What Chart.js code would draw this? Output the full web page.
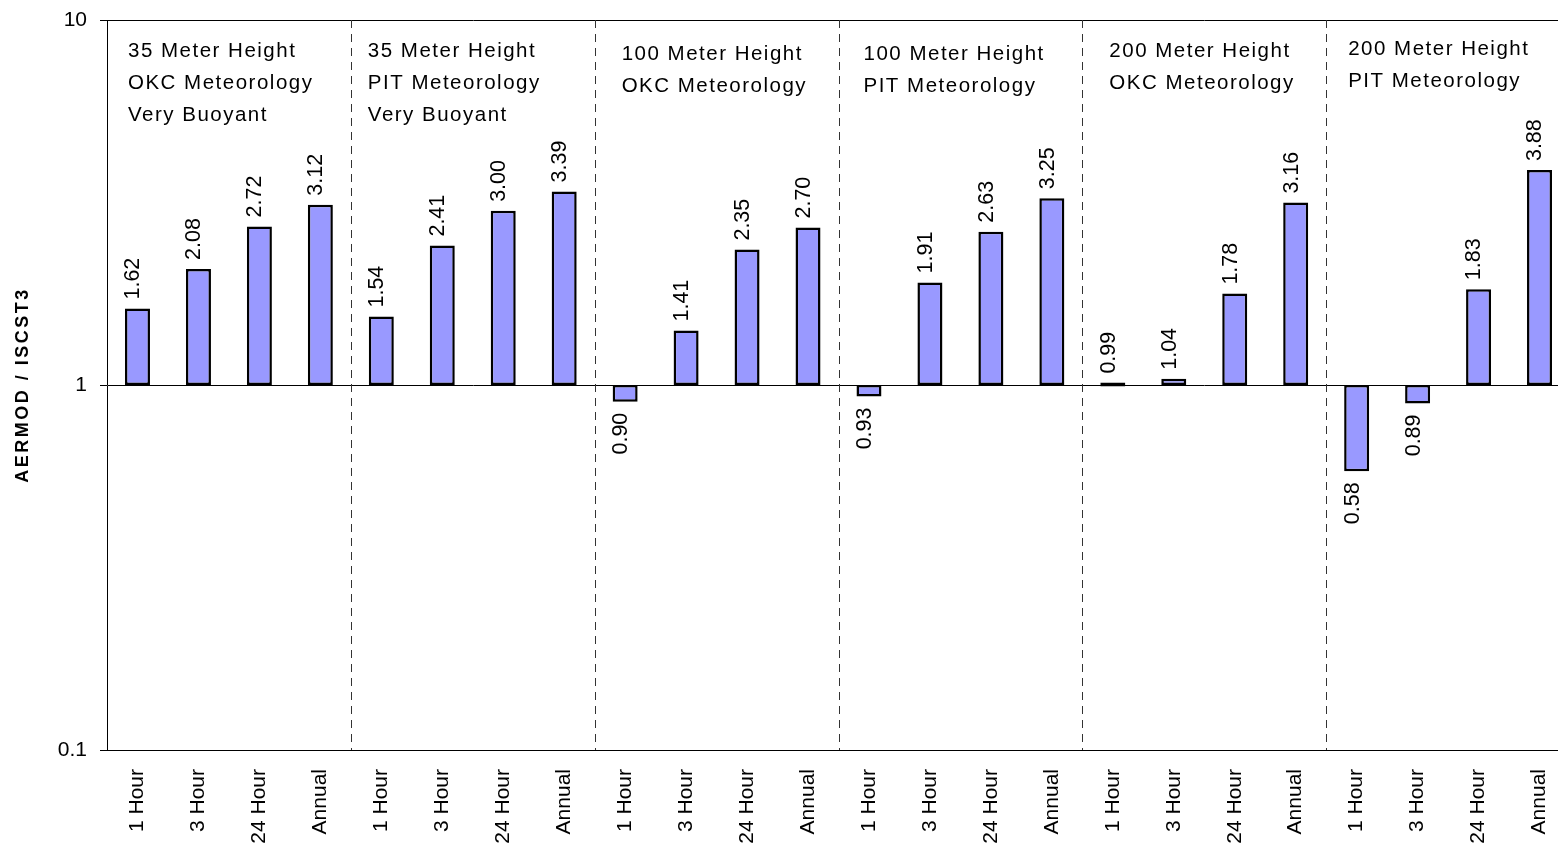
<!DOCTYPE html>
<html>
<head>
<meta charset="utf-8">
<script src="https://cdn.jsdelivr.net/npm/chart.js@4"></script>
<style>
body { margin: 0; background: #fff; overflow: hidden; }
#ratioChart { width: 1571px; height: 849px; display: block; }
</style>
</head>
<body>
<canvas id="ratioChart" width="1571" height="849"></canvas>
<script>
// averaging periods, repeated for each case
var periods = ['1 Hour', '3 Hour', '24 Hour', 'Annual'];

// the six cases, one note block each
var caseNotes = [
    ['35 Meter Height', 'OKC Meteorology', 'Very Buoyant'],
    ['35 Meter Height', 'PIT Meteorology', 'Very Buoyant'],
    ['100 Meter Height', 'OKC Meteorology'],
    ['100 Meter Height', 'PIT Meteorology'],
    ['200 Meter Height', 'OKC Meteorology'],
    ['200 Meter Height', 'PIT Meteorology']
];

// AERMOD / ISCST3 ratio, 4 periods per case
var ratios = [
    1.62, 2.08, 2.72, 3.12,
    1.54, 2.41, 3.00, 3.39,
    0.90, 1.41, 2.35, 2.70,
    0.93, 1.91, 2.63, 3.25,
    0.99, 1.04, 1.78, 3.16,
    0.58, 0.89, 1.83, 3.88
];

var yTicks = [0.1, 1, 10];

// where each note block starts: offset from the group edge, first baseline
var notePlace = [[21, 57], [17, 57], [27, 60], [25, 60], [27, 57], [22, 55]];

var labels = [];
caseNotes.forEach(function () {
    periods.forEach(function (p) { labels.push(p); });
});

var FONT = "'Liberation Sans', Arial, sans-serif";
Chart.defaults.font.family = FONT;
Chart.defaults.color = '#000';

function groupEdge(chart, g) {
    var x = chart.scales.x;
    if (g === 0) return chart.chartArea.left;
    return (x.getPixelForValue(g * 4 - 1) + x.getPixelForValue(g * 4)) / 2;
}

function noOverflow(s) {
    s.paddingTop = 0;
    s.paddingBottom = 0;
    s.paddingLeft = 0;
    s.paddingRight = 0;
}

var extras = {
    id: 'extras',
    beforeDatasetsDraw: function (chart) {
        var ctx = chart.ctx, area = chart.chartArea;
        ctx.save();
        ctx.strokeStyle = '#333';
        ctx.lineWidth = 1;
        ctx.setLineDash([8, 6]);
        for (var g = 1; g < caseNotes.length; g++) {
            var px = Math.round(groupEdge(chart, g)) + 0.5;
            ctx.beginPath();
            ctx.moveTo(px, area.top);
            ctx.lineTo(px, area.bottom);
            ctx.stroke();
        }
        ctx.restore();
    },
    afterDatasetsDraw: function (chart) {
        var ctx = chart.ctx;
        var bars = chart.getDatasetMeta(0).data;

        // value labels
        ctx.save();
        ctx.font = '21.5px ' + FONT;
        ctx.fillStyle = '#000';
        ctx.textBaseline = 'middle';
        bars.forEach(function (bar, i) {
            var top = Math.min(bar.y, bar.base);
            var bottom = Math.max(bar.y, bar.base);
            var up = ratios[i] >= 1 || bottom - top < 5;
            ctx.save();
            if (up) {
                ctx.translate(bar.x - 4, Math.min(top, bar.base) - 9);
                ctx.rotate(-Math.PI / 2);
                ctx.textAlign = 'left';
            } else {
                ctx.translate(bar.x - 4, bottom + 11);
                ctx.rotate(-Math.PI / 2);
                ctx.textAlign = 'right';
            }
            ctx.fillText(ratios[i].toFixed(2), 0, 0);
            ctx.restore();
        });
        ctx.restore();

        // case notes
        ctx.save();
        ctx.font = '20.5px ' + FONT;
        ctx.letterSpacing = '1.5px';
        ctx.fillStyle = '#000';
        ctx.textAlign = 'left';
        ctx.textBaseline = 'alphabetic';
        caseNotes.forEach(function (lines, g) {
            var x0 = groupEdge(chart, g) + notePlace[g][0];
            lines.forEach(function (line, k) {
                ctx.fillText(line, x0, notePlace[g][1] + k * 32);
            });
        });
        ctx.restore();

        // y axis title
        var area = chart.chartArea;
        ctx.save();
        ctx.translate(23, (area.top + area.bottom) / 2);
        ctx.rotate(-Math.PI / 2);
        ctx.font = 'bold 18px ' + FONT;
        ctx.letterSpacing = '2.5px';
        ctx.textAlign = 'center';
        ctx.textBaseline = 'middle';
        ctx.fillStyle = '#000';
        ctx.fillText('AERMOD / ISCST3', 0, 0);
        ctx.restore();
    }
};

var ratioChart = new Chart(document.getElementById('ratioChart'), {
    type: 'bar',
    data: {
        labels: labels,
        datasets: [{
            data: ratios.map(function (v) { return [1, v]; }),
            backgroundColor: '#9999FF',
            borderColor: '#000',
            borderWidth: 2.5,
            borderSkipped: false,
            minBarLength: 4,
            barPercentage: 0.41,
            categoryPercentage: 1
        }]
    },
    options: {
        responsive: false,
        animation: false,
        layout: { padding: { top: 20, right: 1, left: 0, bottom: 0 } },
        plugins: {
            legend: { display: false },
            tooltip: { enabled: false }
        },
        scales: {
            x: {
                grid: { display: false },
                border: { color: '#000', width: 1 },
                ticks: {
                    autoSkip: false,
                    minRotation: 90,
                    maxRotation: 90,
                    padding: 11,
                    font: { size: 21 }
                },
                afterFit: function (s) { s.height = 99; noOverflow(s); }
            },
            y: {
                type: 'logarithmic',
                min: 0.1,
                max: 10,
                afterBuildTicks: function (s) {
                    s.ticks = yTicks.map(function (v) { return { value: v }; });
                },
                ticks: {
                    padding: 13,
                    font: { size: 21 },
                    callback: function (v) { return String(v); }
                },
                grid: { color: '#000', lineWidth: 1, tickLength: 7 },
                border: { color: '#000', width: 1 },
                afterFit: function (s) { s.width = 107; noOverflow(s); }
            }
        }
    },
    plugins: [extras]
});
</script>
</body>
</html>
